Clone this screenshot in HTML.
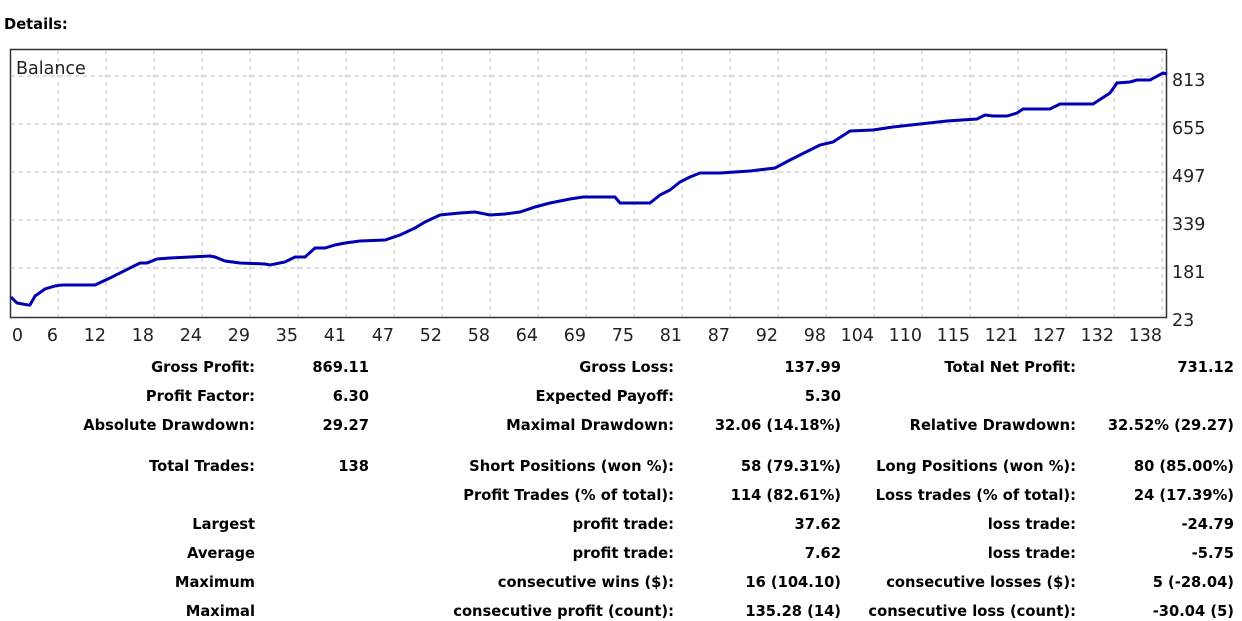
<!DOCTYPE html>
<html><head><meta charset="utf-8"><style>
html,body{margin:0;padding:0;background:#fff;width:1242px;height:621px;overflow:hidden}
svg{display:block}
.t{font-family:"DejaVu Sans","Liberation Sans",sans-serif;font-weight:bold;font-size:14.7px;fill:#000}
.a{font-family:"DejaVu Sans","Liberation Sans",sans-serif;font-size:17.5px;fill:#222}
</style></head><body>
<svg width="1242" height="621" xmlns="http://www.w3.org/2000/svg">
<text x="4" y="29" class="t">Details:</text>
<rect x="10.5" y="49.5" width="1156" height="268" fill="#fff" stroke="#333" stroke-width="1.5"/>
<g stroke="#c0c0c0" stroke-dasharray="4,4" stroke-width="1">
<line x1="11" x2="1166" y1="76" y2="76"/><line x1="11" x2="1166" y1="124" y2="124"/><line x1="11" x2="1166" y1="172" y2="172"/><line x1="11" x2="1166" y1="220" y2="220"/><line x1="11" x2="1166" y1="268" y2="268"/>
<line x1="58" x2="58" y1="50" y2="317"/><line x1="106" x2="106" y1="50" y2="317"/><line x1="154" x2="154" y1="50" y2="317"/><line x1="202" x2="202" y1="50" y2="317"/><line x1="250" x2="250" y1="50" y2="317"/><line x1="298" x2="298" y1="50" y2="317"/><line x1="346" x2="346" y1="50" y2="317"/><line x1="394" x2="394" y1="50" y2="317"/><line x1="442" x2="442" y1="50" y2="317"/><line x1="490" x2="490" y1="50" y2="317"/><line x1="538" x2="538" y1="50" y2="317"/><line x1="586" x2="586" y1="50" y2="317"/><line x1="634" x2="634" y1="50" y2="317"/><line x1="682" x2="682" y1="50" y2="317"/><line x1="730" x2="730" y1="50" y2="317"/><line x1="778" x2="778" y1="50" y2="317"/><line x1="826" x2="826" y1="50" y2="317"/><line x1="874" x2="874" y1="50" y2="317"/><line x1="922" x2="922" y1="50" y2="317"/><line x1="970" x2="970" y1="50" y2="317"/><line x1="1018" x2="1018" y1="50" y2="317"/><line x1="1066" x2="1066" y1="50" y2="317"/><line x1="1114" x2="1114" y1="50" y2="317"/><line x1="1162" x2="1162" y1="50" y2="317"/>
</g>
<text x="16" y="74" class="a">Balance</text>
<polyline fill="none" stroke="#0000b0" stroke-width="3" points="11,297 17,303 28,305 30,305 35,296 45,289 55,286 62,285 95,285 110,278 130,268 140,263 147,263 157,259 170,258 190,257 210,256 215,257 225,261 240,263 265,264 270,265 285,262 295,257 305,257 315,248 325,248 335,245 345,243 360,241 385,240 400,235 415,228 425,222 440,215 460,213 475,212 490,215 505,214 520,212 535,207 550,203 570,199 583,197 615,197 620,203 650,203 660,195 670,190 680,182 690,177 700,173 720,173 750,171 775,168 790,160 800,155 810,150 820,145 833,142 850,131 873,130 893,127 920,124 947,121 977,119 985,115 993,116 1007,116 1017,113 1023,109 1050,109 1060,104 1093,104 1110,93 1117,83 1130,82 1137,80 1150,80 1163,73 1167,74"/>
<g class="a">
<text x="1172" y="86">813</text><text x="1172" y="134">655</text><text x="1172" y="182">497</text><text x="1172" y="230">339</text><text x="1172" y="278">181</text><text x="1172" y="326">23</text>
</g>
<g class="a" text-anchor="end">
<text x="23" y="341">0</text><text x="58" y="341">6</text><text x="106" y="341">12</text><text x="154" y="341">18</text><text x="202" y="341">24</text><text x="250" y="341">29</text><text x="298" y="341">35</text><text x="346" y="341">41</text><text x="394" y="341">47</text><text x="442" y="341">52</text><text x="490" y="341">58</text><text x="538" y="341">64</text><text x="586" y="341">69</text><text x="634" y="341">75</text><text x="682" y="341">81</text><text x="730" y="341">87</text><text x="778" y="341">92</text><text x="826" y="341">98</text><text x="874" y="341">104</text><text x="922" y="341">110</text><text x="970" y="341">115</text><text x="1018" y="341">121</text><text x="1066" y="341">127</text><text x="1114" y="341">132</text><text x="1162" y="341">138</text>
</g>
<g class="t" text-anchor="end">
<text x="255" y="372">Gross Profit:</text><text x="369" y="372">869.11</text><text x="674" y="372">Gross Loss:</text><text x="841" y="372">137.99</text><text x="1076" y="372">Total Net Profit:</text><text x="1234" y="372">731.12</text>
<text x="255" y="401">Profit Factor:</text><text x="369" y="401">6.30</text><text x="674" y="401">Expected Payoff:</text><text x="841" y="401">5.30</text>
<text x="255" y="430">Absolute Drawdown:</text><text x="369" y="430">29.27</text><text x="674" y="430">Maximal Drawdown:</text><text x="841" y="430">32.06 (14.18%)</text><text x="1076" y="430">Relative Drawdown:</text><text x="1234" y="430">32.52% (29.27)</text>
<text x="255" y="471">Total Trades:</text><text x="369" y="471">138</text><text x="674" y="471">Short Positions (won %):</text><text x="841" y="471">58 (79.31%)</text><text x="1076" y="471">Long Positions (won %):</text><text x="1234" y="471">80 (85.00%)</text>
<text x="674" y="500">Profit Trades (% of total):</text><text x="841" y="500">114 (82.61%)</text><text x="1076" y="500">Loss trades (% of total):</text><text x="1234" y="500">24 (17.39%)</text>
<text x="255" y="529">Largest</text><text x="674" y="529">profit trade:</text><text x="841" y="529">37.62</text><text x="1076" y="529">loss trade:</text><text x="1234" y="529">-24.79</text>
<text x="255" y="558">Average</text><text x="674" y="558">profit trade:</text><text x="841" y="558">7.62</text><text x="1076" y="558">loss trade:</text><text x="1234" y="558">-5.75</text>
<text x="255" y="587">Maximum</text><text x="674" y="587">consecutive wins ($):</text><text x="841" y="587">16 (104.10)</text><text x="1076" y="587">consecutive losses ($):</text><text x="1234" y="587">5 (-28.04)</text>
<text x="255" y="616">Maximal</text><text x="674" y="616">consecutive profit (count):</text><text x="841" y="616">135.28 (14)</text><text x="1076" y="616">consecutive loss (count):</text><text x="1234" y="616">-30.04 (5)</text>
</g>
</svg>
</body></html>
